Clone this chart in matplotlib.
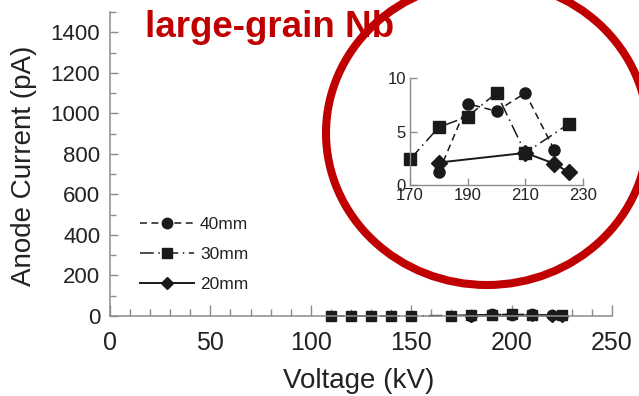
import matplotlib
matplotlib.use("Agg")
import matplotlib.pyplot as plt
from matplotlib.patches import Ellipse
from matplotlib.ticker import MultipleLocator

plt.rcParams['font.family'] = ['Liberation Sans', 'DejaVu Sans']

# anode current (pA) vs voltage (kV) for three gap distances
v_40 = [180, 190, 200, 210, 220]
i_40 = [1.2, 7.6, 6.9, 8.6, 3.3]

v_30 = [110, 120, 130, 140, 150, 170, 180, 190, 200, 210, 225]
i_30 = [0.2, 0.4, 0.6, 0.9, 1.2, 2.4, 5.4, 6.4, 8.6, 3.0, 5.7]

v_20 = [180, 210, 220, 225]
i_20 = [2.1, 3.0, 2.0, 1.2]

labels = ['40mm', '30mm', '20mm']
ink = '#1a1a1a'
grey = '#8c8c8c'
red = '#c00000'

styles = [
    dict(ls=(0, (4.5, 3)), marker='o', ms=7.5, lw=1.1),
    dict(ls=(0, (9, 3, 1, 3)), marker='s', ms=7, lw=1.1),
    dict(ls='-', marker='D', ms=6.5, lw=1.4),
]
series = [(v_40, i_40), (v_30, i_30), (v_20, i_20)]

fig = plt.figure(figsize=(6.39, 3.96), dpi=100)
ax = fig.add_axes([110/639, 1 - 316/396, 502/639, 304/396])

for (v, i), st, lab in zip(series, styles, labels):
    ax.plot(v, i, color=ink, mfc=ink, mec=ink, label=lab, clip_on=False, **st)

ax.set_xlim(0, 250)
ax.set_ylim(0, 1500)
ax.xaxis.set_major_locator(MultipleLocator(50))
ax.xaxis.set_minor_locator(MultipleLocator(10))
ax.yaxis.set_minor_locator(MultipleLocator(100))
ax.set_yticks(range(0, 1401, 200))
for s in ['top', 'right']:
    ax.spines[s].set_visible(False)
for s in ['left', 'bottom']:
    ax.spines[s].set_color(grey)
    ax.spines[s].set_linewidth(1.1)
ax.tick_params(axis='x', which='major', direction='in', length=8, width=1, color=grey,
               labelsize=18, pad=11, labelcolor='#222222')
ax.tick_params(axis='x', which='minor', direction='in', length=5, width=1, color=grey)
ax.tick_params(axis='y', which='major', direction='in', length=6, width=1, color=grey,
               labelsize=16, pad=7, labelcolor='#222222')
ax.tick_params(axis='y', which='minor', direction='in', length=4.5, width=1, color=grey)

fig.text(359/639, 1 - 388/396, 'Voltage (kV)', fontsize=20, ha='center', va='baseline',
         color='#222222')
fig.text(24/639, 1 - 166/396, 'Anode Current (pA)', fontsize=20, rotation=90,
         ha='center', va='center', color='#222222')

ax.legend(loc='upper left', bbox_to_anchor=(140/639, 1 - 217/396),
          bbox_transform=fig.transFigure, frameon=False, fontsize=12.5,
          handlelength=3.1, handletextpad=0.35, labelspacing=0.85,
          borderpad=0, borderaxespad=0, numpoints=1, labelcolor='#222222')

# zoomed view of the high-voltage region (170-230 kV)
ins = fig.add_axes([410/639, 1 - 185/396, 173/639, 107/396])
for (v, i), st in zip(series, styles):
    vz = [x for x in v if x >= 170]
    iz = [y for x, y in zip(v, i) if x >= 170]
    ins.plot(vz, iz, color=ink, mfc=ink, mec=ink, clip_on=False, **dict(st, ms=8))
ins.set_xlim(170, 230)
ins.set_ylim(0, 10)
ins.set_xticks([170, 190, 210, 230])
ins.set_yticks([0, 5, 10])
for s in ['top', 'right']:
    ins.spines[s].set_visible(False)
for s in ['left', 'bottom']:
    ins.spines[s].set_color(grey)
    ins.spines[s].set_linewidth(1.0)
ins.tick_params(direction='in', length=5, width=1, color=grey, labelsize=12,
                labelcolor='#222222')
ins.tick_params(axis='x', pad=2.5)
ins.tick_params(axis='y', pad=3)

fig.text(145/639, 1 - 37/396, 'large-grain Nb', fontsize=26.5, fontweight='bold',
         color=red, ha='left', va='baseline', zorder=3)

ring = Ellipse((487/639, 1 - 133/396), width=322/639, height=304/396,
               transform=fig.transFigure, fill=False, ec=red, lw=5.8, zorder=5)
fig.add_artist(ring)

fig.savefig('out.png', dpi=100)
